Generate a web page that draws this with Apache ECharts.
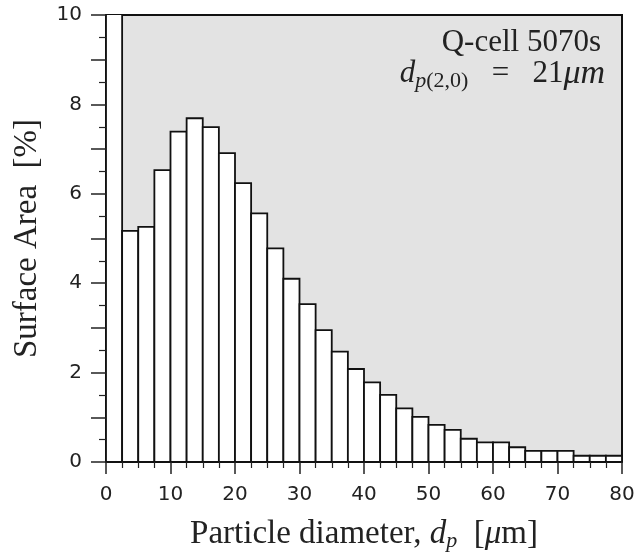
<!DOCTYPE html>
<html><head><meta charset="utf-8">
<script src="https://cdn.jsdelivr.net/npm/echarts@6/dist/echarts.min.js"></script>
<style>html,body{margin:0;padding:0;background:#fff}#c{width:636px;height:553px}</style>
</head><body><div id="c"></div>
<script>
// Histogram bins: left edges (µm), bin width 2.5 µm
const binStart = 0;
const binWidth = 2.5;
const surfaceArea = [12, 5.17, 5.26, 6.53, 7.39, 7.69, 7.49, 6.91, 6.24, 5.56, 4.78, 4.10,
  3.53, 2.95, 2.47, 2.08, 1.78, 1.50, 1.20, 1.01, 0.83, 0.72, 0.52, 0.44,
  0.44, 0.33, 0.25, 0.25, 0.25, 0.14, 0.14, 0.14];
const xTicks = [0, 10, 20, 30, 40, 50, 60, 70, 80];
const yTicks = [0, 2, 4, 6, 8, 10];

const data = surfaceArea.map((v, i) => [binStart + i * binWidth, binStart + (i + 1) * binWidth, v]);

const chart = echarts.init(document.getElementById('c'), null, {renderer: 'canvas'});
const serif = '"Liberation Serif", "DejaVu Serif", serif';
const sans = '"DejaVu Sans", Verdana, sans-serif';
const FS = 33, SUB = 22, AFS = 31;

chart.setOption({
  animation: false,
  grid: {left: 106, right: 14, top: 15, bottom: 91, show: true, outerBoundsMode: 'none', containLabel: false,
    backgroundColor: '#e3e3e3', borderColor: '#111', borderWidth: 2},
  xAxis: {
    type: 'value', min: xTicks[0], max: xTicks[xTicks.length - 1], interval: 10,
    axisLine: {show: true, onZero: false, lineStyle: {color: '#111', width: 2}},
    axisTick: {show: true, inside: false, length: 12, lineStyle: {color: '#222', width: 1.5}},
    minorTick: {show: true, splitNumber: 4, length: 6, lineStyle: {color: '#222', width: 1.2}},
    splitLine: {show: false},
    axisLabel: {fontFamily: sans, fontSize: 20, color: '#222', margin: 23},
    name: '{n|Particle diameter, }{i|d}{s|p}{n|  [}{i|μ}{n|m]}',
    nameLocation: 'middle', nameGap: 54,
    nameTextStyle: {rich: {
      n: {fontFamily: serif, fontSize: FS, color: '#222'},
      i: {fontFamily: serif, fontSize: FS, fontStyle: 'italic', color: '#222'},
      s: {fontFamily: serif, fontSize: SUB, fontStyle: 'italic', color: '#222', padding: [14, 0, 0, 0]}
    }}
  },
  yAxis: {
    type: 'value', min: yTicks[0], max: yTicks[yTicks.length - 1], interval: 1,
    axisLine: {show: true, lineStyle: {color: '#111', width: 2}},
    axisTick: {show: true, inside: false, length: 15, lineStyle: {color: '#222', width: 1.5}},
    minorTick: {show: true, splitNumber: 2, length: 7, lineStyle: {color: '#222', width: 1.2}},
    splitLine: {show: false},
    axisLabel: {fontFamily: sans, fontSize: 20, color: '#222', margin: 24,
      formatter: v => yTicks.includes(v) ? String(v) : ''},
    name: 'Surface Area  [%]', nameLocation: 'middle', nameGap: 62,
    nameTextStyle: {fontFamily: serif, fontSize: FS, color: '#222'}
  },
  series: [{
    type: 'custom', clip: true,
    data: data,
    encode: {x: [0, 1], y: 2},
    renderItem: function (params, api) {
      const p0 = api.coord([api.value(0), api.value(2)]);
      const p1 = api.coord([api.value(1), 0]);
      const r = echarts.graphic.clipRectByRect({
        x: p0[0], y: p0[1], width: p1[0] - p0[0], height: p1[1] - p0[1]
      }, {x: params.coordSys.x, y: params.coordSys.y - 1, width: params.coordSys.width, height: params.coordSys.height + 1});
      return r && {type: 'rect', shape: r,
        style: {fill: '#ffffff', stroke: '#111', lineWidth: 1.8}};
    }
  }],
  graphic: [
    {type: 'text', right: 35, top: 27, style: {text: 'Q-cell 5070s', font: AFS + 'px ' + serif, fill: '#222', align: 'right'}},
    {type: 'text', right: 31, top: 57, style: {
      text: '{i|d}{s|p}{u|(2,0)}{n|   =   21}{m|μm}',
      rich: {
        i: {fontFamily: serif, fontSize: AFS, fontStyle: 'italic', fill: '#222'},
        m: {fontFamily: serif, fontSize: 34, fontStyle: 'italic', fill: '#222'},
        n: {fontFamily: serif, fontSize: AFS, fill: '#222'},
        s: {fontFamily: serif, fontSize: SUB, fontStyle: 'italic', fill: '#222', padding: [14, 0, 0, 0]},
        u: {fontFamily: serif, fontSize: SUB, fill: '#222', padding: [14, 0, 0, 0]}
      }
    }}
  ]
});
</script></body></html>
